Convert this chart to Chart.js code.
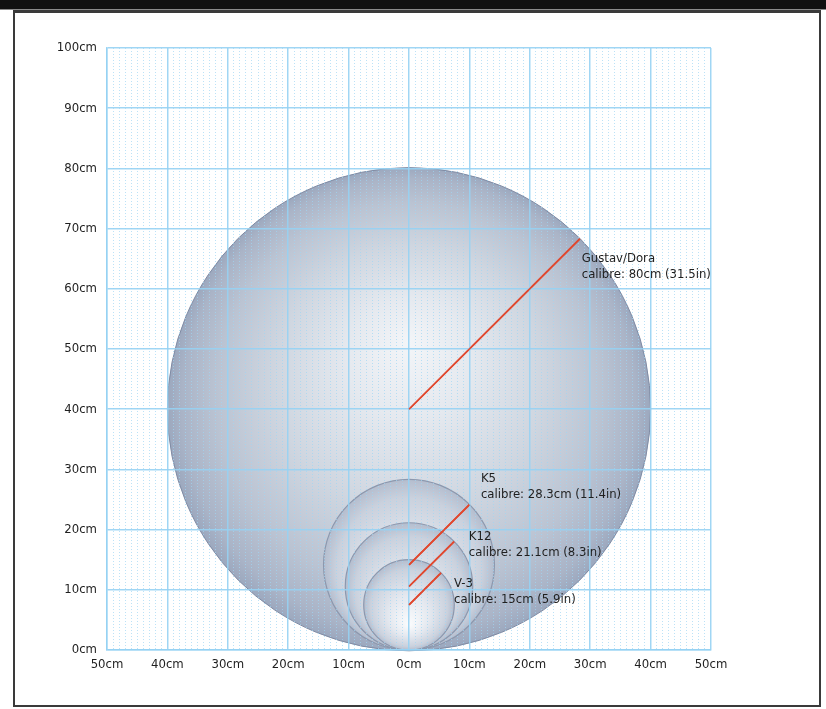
<!DOCTYPE html>
<html>
<head>
<meta charset="utf-8">
<script src="https://cdn.jsdelivr.net/npm/chart.js@4.4.1/dist/chart.umd.min.js"></script>
<style>
  html, body { margin: 0; padding: 0; background: #fff; }
  #wrap { position: relative; width: 826px; height: 709px; overflow: hidden; background: #fff; }
  #bar { position: absolute; left: 0; top: 0; width: 826px; height: 9px; background: #111; border-bottom: 1px solid #8a8a8a; }
  #frame { position: absolute; left: 13px; top: 10px; width: 808px; height: 697px; border: 2px solid #3a3a3a; border-top-width: 3px; box-sizing: border-box; }
  canvas { position: absolute; left: 0; top: 0; }
</style>
</head>
<body>
<div id="wrap">
  <div id="bar"></div>
  <div id="frame"></div>
  <canvas id="chart" width="826" height="709"></canvas>
</div>
<script>
// Guns and their shell calibres, smallest first
const guns = ['V-3', 'K12', 'K5', 'Gustav/Dora'];
const calibreCm = [15, 21.1, 28.3, 80];
const calibreIn = [5.9, 8.3, 11.4, 31.5];

// Callout anchor (left edge, first text line) in axis units
const labelX = [7.45, 9.9, 11.9, 28.6];
const labelY = [11.1, 18.8, 28.4, 65.0];

const xTickLabels = ['50cm', '40cm', '30cm', '20cm', '10cm', '0cm', '10cm', '20cm', '30cm', '40cm', '50cm'];
const yTickLabels = ['0cm', '10cm', '20cm', '30cm', '40cm', '50cm', '60cm', '70cm', '80cm', '90cm', '100cm'];

const FONT = '"DejaVu Sans Condensed", "DejaVu Sans", sans-serif';
const TEXT = '#1f1f1f';
Chart.defaults.font.family = FONT;
Chart.defaults.font.size = 13;
Chart.defaults.color = TEXT;

// Each shell sits on the 0cm line, centred on x = 0
const radiusOf = i => calibreCm[i] / 2;

function pxRadius(chart, i) {
  const x = chart.scales.x;
  const r = x.getPixelForValue(radiusOf(i)) - x.getPixelForValue(0);
  return isFinite(r) ? r : 0;
}

function shellFill(i) {
  return ctx => {
    const chart = ctx.chart;
    if (!chart.chartArea) return '#c8d0dc';
    const x = chart.scales.x, y = chart.scales.y;
    const cx = x.getPixelForValue(0);
    const cy = y.getPixelForValue(radiusOf(i));
    const rp = pxRadius(chart, i);
    if (!(rp > 0) || !isFinite(cy)) return '#c8d0dc';
    const big = i === 3;
    const fy = big ? cy - 0.28 * rp : cy + 0.45 * rp;
    const g = chart.ctx.createRadialGradient(cx, fy, 0, cx, cy, rp);
    if (big) {
      g.addColorStop(0, '#f3f5f8');
      g.addColorStop(0.25, '#e5e9ef');
      g.addColorStop(0.55, '#cfd6e0');
      g.addColorStop(0.8, '#bac3d2');
      g.addColorStop(0.94, '#aab4c7');
      g.addColorStop(1, '#9ca8be');
    } else {
      g.addColorStop(0, '#fbfcfd');
      g.addColorStop(0.45, '#e4e8ef');
      g.addColorStop(0.85, '#cad1dd');
      g.addColorStop(1, '#b4bdce');
    }
    return g;
  };
}

const shellSets = guns.map((name, i) => ({
  type: 'scatter',
  label: name,
  data: [{ x: 0, y: radiusOf(i) }],
  showLine: false,
  clip: false,
  pointRadius: ctx => pxRadius(ctx.chart, i),
  pointBackgroundColor: shellFill(i),
  pointBorderColor: i === 3 ? '#7f8ba4' : '#8c98ae',
  pointBorderWidth: i === 3 ? 1 : 1.2
}));

// Radius marker from each shell's centre out at 45 degrees
const radiusSets = guns.map((name, i) => {
  const r = radiusOf(i);
  const d = r * Math.SQRT1_2;
  return {
    type: 'scatter',
    label: name + ' radius',
    data: [{ x: 0, y: r }, { x: d, y: r + d }],
    showLine: true,
    borderColor: '#e0482f',
    borderWidth: 1.6,
    pointRadius: 0,
    fill: false
  };
});

// Radius markers go over the grid; callout text last
const callouts = {
  id: 'callouts',
  afterDraw(chart) {
    const { ctx, scales: { x, y } } = chart;
    radiusSets.forEach((_, i) => chart.getDatasetMeta(i).controller.draw());
    ctx.save();
    ctx.font = '13px ' + FONT;
    ctx.fillStyle = TEXT;
    ctx.textBaseline = 'middle';
    ctx.textAlign = 'left';
    guns.forEach((g, i) => {
      const px = x.getPixelForValue(labelX[i]);
      const py = y.getPixelForValue(labelY[i]);
      ctx.fillText(g, px, py);
      ctx.fillText('calibre: ' + calibreCm[i] + 'cm (' + calibreIn[i] + 'in)', px, py + 16);
    });
    ctx.restore();
  }
};

const MAJOR = 'rgba(150, 210, 243, 0.9)';
const MINOR = 'rgba(160, 214, 244, 0.7)';

new Chart(document.getElementById('chart'), {
  type: 'scatter',
  data: { datasets: [...radiusSets, ...shellSets] },
  options: {
    responsive: false,
    animation: false,
    events: [],
    layout: { padding: { left: 0, right: 115, top: 48, bottom: 0 } },
    plugins: { legend: { display: false }, tooltip: { enabled: false } },
    scales: {
      x: {
        type: 'linear', position: 'bottom', min: -50, max: 50,
        ticks: { stepSize: 10, padding: 7, callback: (v, i) => xTickLabels[i] },
        grid: { color: MAJOR, lineWidth: 1.5, drawTicks: false, z: 1 },
        border: { color: MAJOR, width: 1.5, z: 1 },
        afterFit: s => { s.height = 59; }
      },
      xMinor: {
        type: 'linear', position: 'bottom', min: -50, max: 50,
        ticks: { display: false, stepSize: 1, maxTicksLimit: 200 },
        grid: {
          color: c => (c.tick && Math.round(c.tick.value) % 10 === 0) ? 'rgba(0,0,0,0)' : MINOR,
          lineWidth: 1, drawTicks: false, z: 1
        },
        border: { display: false, dash: [1, 2] },
        afterFit: s => { s.height = 0; }
      },
      y: {
        type: 'linear', position: 'left', min: 0, max: 100,
        ticks: { stepSize: 10, padding: 10, callback: (v, i) => yTickLabels[i] },
        grid: { color: MAJOR, lineWidth: 1.5, drawTicks: false, z: 1 },
        border: { color: MAJOR, width: 1.5, z: 1 },
        afterFit: s => { s.width = 107; }
      }
    }
  },
  plugins: [callouts]
});
</script>
</body>
</html>
